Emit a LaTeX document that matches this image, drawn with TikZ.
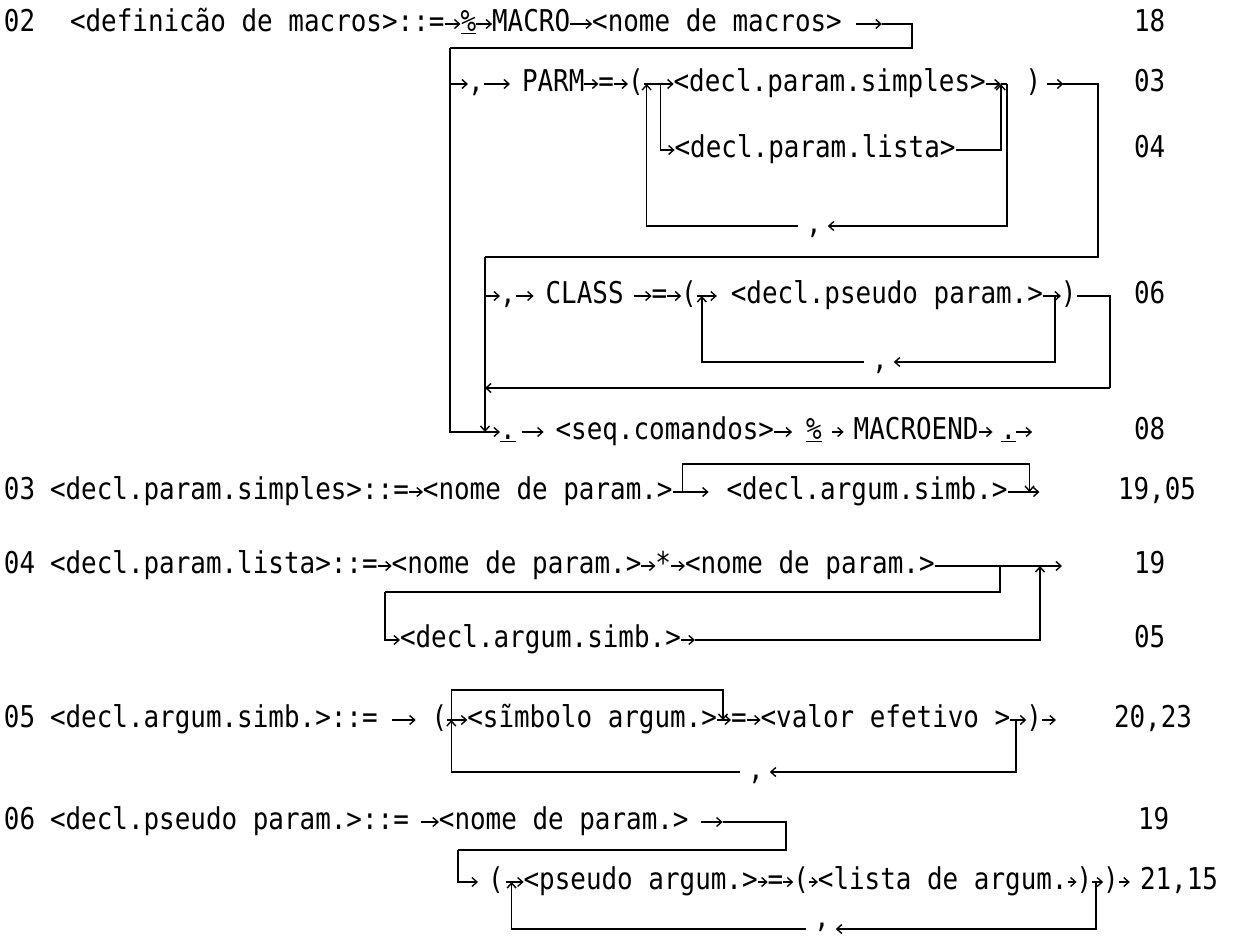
\documentclass[tikz,border=0pt]{standalone}
\usepackage{fontspec}
\newfontfamily\tw[FakeStretch=0.864]{DejaVu Sans Mono}
\usetikzlibrary{positioning,calc,arrows.meta}
\begin{document}
\begin{tikzpicture}[x=1pt,y=-1pt,
  tok/.style={inner sep=0pt,outer sep=0pt,font=\tw\fontsize{30}{36}\selectfont,
              text height=22pt,text depth=7pt},
  at west/.style={tok,anchor=west},
  ln/.style={line width=1.6pt,line join=miter},
  arr/.style={ln,-{Straight Barb[length=5pt,width=9pt,line width=1.4pt]}}]
\useasboundingbox (0,0) rectangle (1240,937);

% ---------------- 02 <definicao de macros>
\node[at west] (n02) at (4,24) {02};
\node[at west] (d1) at (70,24) {<definicão de macros>::=};
\node[tok,right=16 of d1] (p1) {\underline{\%}};
\node[tok,right=16 of p1] (mac) {MACRO};
\node[tok,right=22 of mac] (nm) {<nome de macros>};
\coordinate (a1s) at ($(nm.east)+(14,0)$);
\coordinate (a1e) at ($(nm.east)+(40,0)$);
\coordinate (c1) at (912,24);
\coordinate (v1) at (450,48);
\draw[arr] (d1) -- (p1);
\draw[arr] (p1) -- (mac);
\draw[arr] (mac) -- (nm);
\draw[arr] (a1s) -- (a1e);
\draw[ln] (a1e) -- (c1) |- (v1);
\node[at west] (r18) at (1134,24) {18};

% ---------------- PARM branch
\coordinate (v1r2) at (450,84);
\node[at west] (cm2) at (468,84) {,};
\node[at west] (parm) at (522,84) {PARM};
\node[tok,right=14 of parm] (eq2) {=};
\node[tok,right=14 of eq2] (lp2) {(};
\coordinate (j1) at ($(lp2.east)+(3,0)$);
\coordinate (j2) at ($(lp2.east)+(17,0)$);
\node[tok,right=30 of lp2] (simp) {<decl.param.simples>};
\coordinate (k1) at ($(simp.east)+(15,0)$);
\coordinate (k2) at ($(simp.east)+(21,0)$);
\node[tok,right=40 of simp] (rp2) {)};
\coordinate (a2s) at ($(rp2.east)+(6,0)$);
\coordinate (a2e) at ($(rp2.east)+(22,0)$);
\coordinate (c2) at (1098,84);
\coordinate (v2) at (485,257);
\draw[arr] (v1r2) -- (cm2);
\draw[arr,shorten >=12pt] (cm2) -- (parm);
\draw[arr] (parm) -- (eq2);
\draw[arr] (eq2) -- (lp2);
\draw[arr] (lp2) -- (simp);
\draw[arr] (simp) -- (k1);
\draw[ln] (k1) -- (k2);
\draw[arr] (a2s) -- (a2e);
\draw[ln] (a2e) -- (c2) |- (v2);
\node[at west] (r03) at (1134,84) {03};

% lista alternative
\coordinate (rowl) at (0,150);
\node[at west] (lista) at ($(j2|-rowl)+(14,0)$) {<decl.param.lista>};
\draw[arr] (j2) |- (lista);
\draw[arr] (lista) -| (k1);
\node[at west] (r04) at (1134,150) {04};

% comma repetition of parameters
\node[tok] (cm1) at (814,226) {,};
\draw[arr,shorten >=6pt] (k2) |- (cm1);
\draw[arr,shorten <=8pt] (cm1) -| (j1);

% ---------------- CLASS branch
\coordinate (v2r3) at (485,296);
\node[at west] (cm3) at (500,296) {,};
\node[tok,right=30 of cm3] (cls) {CLASS};
\node[tok,right=28 of cls] (eq3) {=};
\node[tok,right=14 of eq3] (lp3) {(};
\coordinate (l1) at ($(lp3.east)+(5,0)$);
\node[tok,right=34 of lp3] (pseudo) {<decl.pseudo param.>};
\coordinate (l2) at ($(pseudo.east)+(12,0)$);
\node[tok,right=18 of pseudo] (rp3) {)};
\coordinate (c3) at (1110,296);
\coordinate (c3b) at (1110,388);
\coordinate (v2r) at (485,388);
\draw[arr] (v2r3) -- (cm3);
\draw[arr,shorten >=12pt] (cm3) -- (cls);
\draw[arr,shorten <=10pt] (cls) -- (eq3);
\draw[arr] (eq3) -- (lp3);
\draw[arr,shorten >=14pt] (lp3) -- (pseudo);
\draw[arr] (pseudo) -- (rp3);
\draw[ln] (rp3) -- (c3) -- (c3b);
\draw[arr] (c3b) -- (v2r);
\node[at west] (r06) at (1134,296) {06};

\node[tok] (cm32) at (880,362) {,};
\draw[arr,shorten >=6pt] (l2) |- (cm32);
\draw[arr,shorten <=8pt] (cm32) -| (l1);

% ---------------- command sequence
\node[at west] (dot1) at (500,432) {\underline{.}};
\node[tok,right=40 of dot1] (seq) {<seq.comandos>};
\node[tok,right=32 of seq] (pc4) {\underline{\%}};
\node[tok,right=32 of pc4] (mend) {MACROEND};
\node[tok,right=22 of mend] (dot2) {\underline{.}};
\coordinate (e4) at ($(dot2.east)+(16,0)$);
\coordinate (m4) at (485,432);
\draw[arr] (v1) |- (dot1);
\draw[arr] (v2) -- (m4);
\draw[arr,shorten <=6pt,shorten >=12pt] (dot1) -- (seq);
\draw[arr,shorten >=14pt] (seq) -- (pc4);
\draw[arr,shorten <=10pt,shorten >=10pt] (pc4) -- (mend);
\draw[arr,shorten >=8pt] (mend) -- (dot2);
\draw[arr] (dot2) -- (e4);
\node[at west] (r08) at (1134,432) {08};

% ---------------- 03 <decl.param.simples>
\node[at west] (n03) at (4,492) {03};
\node[at west] (dps) at (50,492) {<decl.param.simples>::=};
\node[tok,right=14 of dps] (np3) {<nome de param.>};
\coordinate (m1) at ($(np3.east)+(10,0)$);
\node[tok,right=54 of np3] (das3) {<decl.argum.simb.>};
\coordinate (m2) at ($(das3.east)+(22,0)$);
\coordinate (e5) at ($(das3.east)+(32,0)$);
\coordinate (top5) at (0,464);
\draw[arr] (dps) -- (np3);
\draw[ln] (np3) -- (m1);
\draw[arr,shorten >=18pt] (m1) -- (das3);
\draw[arr] (das3) -- (e5);
\draw[arr] (m1) -- (m1|-top5) -| (m2);
\node[at west] (r1905) at (1118,492) {19,05};

% ---------------- 04 <decl.param.lista>
\node[at west] (n04) at (4,566) {04};
\node[at west] (dpl) at (50,566) {<decl.param.lista>::=};
\node[tok,right=14 of dpl] (np4a) {<nome de param.>};
\node[tok,right=14 of np4a] (ast) {*};
\node[tok,right=14 of ast] (np4b) {<nome de param.>};
\coordinate (n1) at (1000,566);
\coordinate (n2) at (1040,566);
\coordinate (e6) at (1062,566);
\coordinate (lft6) at (385,592);
\node[at west] (das4) at (400,640) {<decl.argum.simb.>};
\coordinate (a7) at ($(das4.east)+(14,0)$);
\draw[arr] (dpl) -- (np4a);
\draw[arr] (np4a) -- (ast);
\draw[arr] (ast) -- (np4b);
\draw[arr] (np4b) -- (e6);
\draw[ln] (n1) |- (lft6);
\draw[arr] (lft6) |- (das4);
\draw[arr] (das4) -- (a7);
\draw[arr] (a7) -| (n2);
\node[at west] (r19a) at (1134,566) {19};
\node[at west] (r05) at (1134,640) {05};

% ---------------- 05 <decl.argum.simb.>
\node[at west] (n05) at (4,720) {05};
\node[at west] (das5) at (50,720) {<decl.argum.simb.>::=};
\node[tok,right=54 of das5] (lp5) {(};
\coordinate (pp1) at ($(lp5.east)+(4,0)$);
\node[tok,right=20 of lp5] (simbolo) {<sĩmbolo argum.>};
\coordinate (q5) at ($(simbolo.east)+(6,0)$);
\node[tok,right=14 of simbolo] (eq5) {=};
\node[tok,right=14 of eq5] (valor) {<valor efetivo >};
\coordinate (pp2) at ($(valor.east)+(6,0)$);
\node[tok,right=16 of valor] (rp5) {)};
\coordinate (e8) at ($(rp5.east)+(14,0)$);
\coordinate (top8) at (0,690);
\draw[arr,shorten <=14pt,shorten >=16pt] (das5) -- (lp5);
\draw[arr] (lp5) -- (simbolo);
\draw[arr] (simbolo) -- (eq5);
\draw[arr] (eq5) -- (valor);
\draw[arr] (valor) -- (rp5);
\draw[arr] (rp5) -- (e8);
\draw[arr] (pp1) -- (pp1|-top8) -| (q5);
\node[tok] (cm5) at (756,772) {,};
\draw[arr,shorten >=6pt] (pp2) |- (cm5);
\draw[arr,shorten <=8pt] (cm5) -| (pp1);
\node[at west] (r2023) at (1114,720) {20,23};

% ---------------- 06 <decl.pseudo param.>
\node[at west] (n06) at (4,822) {06};
\node[at west] (dpp) at (50,822) {<decl.pseudo param.>::=};
\node[tok,right=30 of dpp] (np6) {<nome de param.>};
\coordinate (a9s) at ($(np6.east)+(12,0)$);
\coordinate (a9e) at ($(np6.east)+(34,0)$);
\coordinate (c9) at (786,822);
\coordinate (c9l) at (458,850);
\node[at west] (lp6) at (488,882) {(};
\draw[arr,shorten <=12pt] (dpp) -- (np6);
\draw[arr] (a9s) -- (a9e);
\draw[ln] (a9e) -- (c9) |- (c9l);
\draw[arr,shorten >=10pt] (c9l) |- (lp6);
\node[at west] (r19b) at (1138,822) {19};

\coordinate (qq1) at ($(lp6.east)+(8,0)$);
\node[tok,right=20 of lp6] (psa) {<pseudo argum.>};
\node[tok,right=10 of psa] (eq6) {=};
\node[tok,right=10 of eq6] (lp6b) {(};
\node[tok,right=9 of lp6b] (lst) {<lista de argum.};
\node[tok,right=9 of lst] (rp6a) {)};
\coordinate (qq2) at ($(rp6a.east)+(4,0)$);
\node[tok,right=11 of rp6a] (rp6b) {)};
\coordinate (e10) at ($(rp6b.east)+(11,0)$);
\draw[arr,shorten <=2pt] (lp6) -- (psa);
\draw[arr] (psa) -- (eq6);
\draw[arr] (eq6) -- (lp6b);
\draw[arr] (lp6b) -- (lst);
\draw[arr] (lst) -- (rp6a);
\draw[arr] (rp6a) -- (rp6b);
\draw[arr] (rp6b) -- (e10);
\node[tok] (cm6) at (822,920) {,};
\draw[arr,shorten >=6pt] (qq2) |- (cm6.east|-0,929);
\draw[arr,shorten <=8pt] (cm6.west|-0,929) -| (qq1);
\node[at west] (r2115) at (1140,882) {21,15};
\end{tikzpicture}
\end{document}
